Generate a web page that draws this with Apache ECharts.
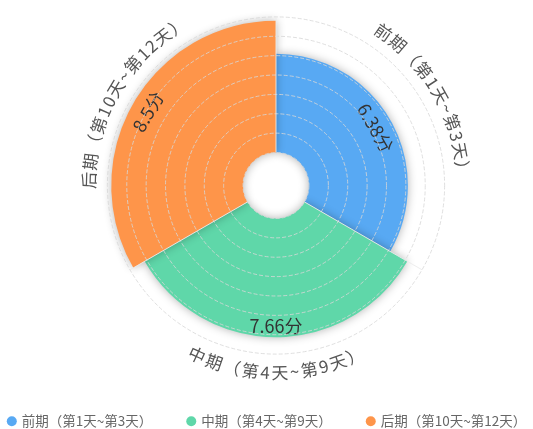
<!DOCTYPE html>
<html>
<head>
<meta charset="utf-8">
<title>各阶段得分</title>
<script src="https://cdn.jsdelivr.net/npm/echarts@6/dist/echarts.min.js"></script>
<style>
  html, body { margin: 0; padding: 0; background: #fff; }
  #main { width: 533px; height: 429px; }
</style>
</head>
<body>
<div id="main"></div>
<script>
// data
const stages = ['前期（第1天~第3天）', '中期（第4天~第9天）', '后期（第10天~第12天）'];
const scores = [6.38, 7.66, 8.5];
const colors = ['#58a9f3', '#5fd7a9', '#fe954a'];
const radiusMin = 0;
const radiusMax = 8.75;
const radiusStep = 1.25;

const FONT = "'Noto Sans CJK SC', 'Noto Sans', sans-serif";
const startAngle = 90;

const chart = echarts.init(document.getElementById('main'));

const measureCtx = document.createElement('canvas').getContext('2d');
measureCtx.font = '17px ' + FONT;

// labels along the outer circle, one glyph at a time
function renderArcLabel(params, api) {
  const cs = params.coordSys;
  const pt = api.coord([api.value(0), api.value(1)]);
  const mid = Math.atan2(pt[1] - cs.cy, pt[0] - cs.cx);
  const R = cs.r + 18.5;
  const chars = Array.from(stages[params.dataIndex]);
  const spacing = 1.6;
  const widths = chars.map(c => measureCtx.measureText(c).width);
  const total = widths.reduce((a, b) => a + b, 0) + spacing * (chars.length - 1);
  const flip = Math.sin(mid) > 0.1;
  let cum = 0;
  const children = chars.map((c, k) => {
    const off = (cum + widths[k] / 2 - total / 2) / R;
    cum += widths[k] + spacing;
    const theta = flip ? mid - off : mid + off;
    return {
      type: 'text',
      x: cs.cx + R * Math.cos(theta),
      y: cs.cy + R * Math.sin(theta),
      rotation: flip ? Math.PI / 2 - theta : -theta - Math.PI / 2,
      style: {
        text: c,
        fill: '#555',
        fontSize: 17,
        fontFamily: FONT,
        align: 'center',
        verticalAlign: 'middle'
      }
    };
  });
  return { type: 'group', children };
}

function isBottom(i) {
  const a = (startAngle - (i + 0.5) * 360 / stages.length) * Math.PI / 180;
  return Math.sin(a) < -0.5;
}

const barSeries = stages.map((name, i) => ({
  name,
  type: 'bar',
  coordinateSystem: 'polar',
  stack: 'score',
  barCategoryGap: '0%',
  data: scores.map((v, j) => (j === i ? v : '-')),
  itemStyle: {
    color: colors[i],
    shadowBlur: 10,
    shadowColor: 'rgba(0, 0, 0, 0.3)'
  },
  label: isBottom(i) ? {
    show: true,
    position: 'insideEnd',
    rotate: 0,
    verticalAlign: 'bottom',
    distance: 2,
    formatter: '{c}分',
    fontSize: 18,
    fontFamily: FONT,
    color: '#333'
  } : {
    show: true,
    position: 'insideEnd',
    distance: 8,
    formatter: '{c}分',
    fontSize: 18,
    fontFamily: FONT,
    color: '#333'
  }
}));

chart.setOption({
  animation: false,
  legend: {
    data: stages,
    left: 'center',
    bottom: 1,
    padding: 0,
    icon: 'circle',
    itemWidth: 10,
    itemHeight: 10,
    itemGap: 34,
    textStyle: { fontSize: 13.5, color: '#666', fontFamily: FONT }
  },
  polar: {
    center: [276, 185.5],
    radius: [33, 168.6]
  },
  angleAxis: {
    type: 'category',
    data: stages,
    startAngle: startAngle,
    clockwise: true,
    z: 3,
    axisLine: { show: false },
    axisTick: { show: false },
    axisLabel: { show: false },
    splitLine: {
      show: true,
      lineStyle: { color: 'rgba(235, 235, 235, 0.9)', width: 1 }
    }
  },
  radiusAxis: {
    type: 'value',
    min: radiusMin,
    max: radiusMax,
    interval: radiusStep,
    z: 3,
    axisLine: { show: false },
    axisTick: { show: false },
    axisLabel: { show: false },
    splitLine: {
      show: true,
      showMinLine: false,
      lineStyle: { type: 'dashed', color: 'rgba(215, 215, 215, 0.8)', width: 1 }
    }
  },
  series: [
    ...barSeries,
    {
      type: 'custom',
      coordinateSystem: 'polar',
      silent: true,
      z: 4,
      data: stages.map((s, i) => [radiusMax, i]),
      encode: { radius: 0, angle: 1 },
      renderItem: renderArcLabel
    }
  ]
});
</script>
</body>
</html>
